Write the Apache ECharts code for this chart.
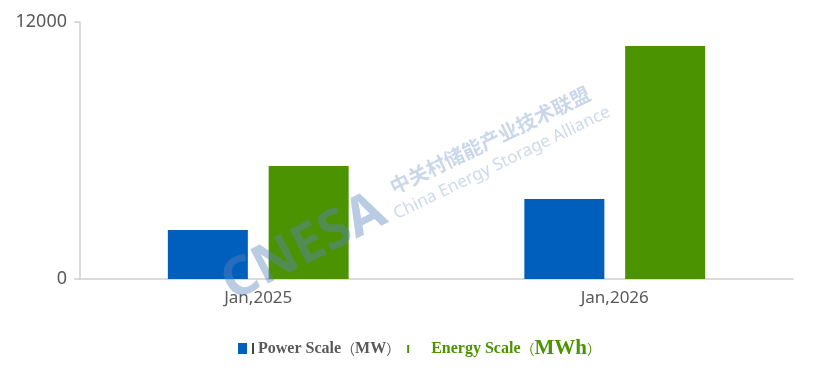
<!DOCTYPE html>
<html>
<head>
<meta charset="utf-8">
<script src="https://cdn.jsdelivr.net/npm/echarts@6/dist/echarts.min.js"></script>
<style>
html,body{margin:0;padding:0;background:#fff;}
#main{width:816px;height:376px;}
</style>
</head>
<body>
<div id="main"></div>
<script>
// 数据
var categories = ['Jan,2025', 'Jan,2026'];
var powerScale = [2290, 3740];
var energyScale = [5280, 10880];
var yTicks = [0, 12000];

var myChart = echarts.init(document.getElementById('main'));
var wm = 'rgba(90,130,190,0.42)';
var serif = 'Liberation Serif';
var cjk = 'Noto Sans CJK SC';
var option = {
	animation: false,
	color: ['#005EBD', '#4B9300'],
	grid: { left: 80, right: 23, top: 22, bottom: 97 },
	legend: {
		bottom: 12,
		left: 233,
		itemGap: 4,
		itemWidth: 9,
		itemHeight: 11,
		selectedMode: false,
		data: [
			{
				name: 'Power Scale（MW）',
				icon: 'rect',
				textStyle: {
					rich: {
						bar: { width: 2, height: 11, backgroundColor: '#444' },
						t: { fontFamily: serif, fontWeight: 'bold', fontSize: 16, color: '#595959', padding: [0, 0, 0, 4] },
						p: { fontFamily: cjk, fontSize: 14, color: '#595959' },
						m: { fontFamily: serif, fontWeight: 'bold', fontSize: 16, color: '#595959' }
					}
				}
			},
			{
				name: 'Energy Scale（MWh）',
				icon: 'path://M0,0h0.01v0.01h-0.01z M3,2h2v8h-2z M8.99,10.99h0.01v0.01h-0.01z',
				textStyle: {
					rich: {
						t: { fontFamily: serif, fontWeight: 'bold', fontSize: 16, color: '#4B9300', padding: [0, 0, 0, 13] },
						p: { fontFamily: cjk, fontSize: 14, color: '#4B9300' },
						u: { fontFamily: serif, fontWeight: 'bold', fontSize: 21, color: '#4B9300' }
					}
				}
			}
		],
		formatter: function (name) {
			if (name.indexOf('MWh') > -1) {
				return '{t|Energy Scale}{p|（}{u|MWh}{p|）}';
			}
			return '{bar| }{t|Power Scale}{p|（}{m|MW}{p|）}';
		}
	},
	xAxis: {
		type: 'category',
		data: categories,
		axisLine: { lineStyle: { color: '#D0D0D0', width: 1.5 } },
		axisTick: { show: false },
		axisLabel: { color: '#595959', fontSize: 17, fontFamily: 'Noto Sans', margin: 11 }
	},
	yAxis: {
		type: 'value',
		min: yTicks[0],
		max: yTicks[1],
		interval: yTicks[1] - yTicks[0],
		axisLine: { show: true, lineStyle: { color: '#D0D0D0', width: 1.5 } },
		axisTick: { show: true, length: 6, lineStyle: { color: '#D0D0D0', width: 1.5 } },
		splitLine: { show: false },
		axisLabel: {
			color: '#595959', fontSize: 18, fontFamily: 'Noto Sans', margin: 13,
			formatter: function (v) { return String(v); }
		}
	},
	series: [
		{ name: 'Power Scale（MW）', type: 'bar', data: powerScale, barWidth: 80, barGap: '26%' },
		{ name: 'Energy Scale（MWh）', type: 'bar', data: energyScale, barWidth: 80, barGap: '26%' }
	],
	graphic: [
		{ type: 'text', x: 304, y: 248, rotation: 0.47, z: 100, silent: true,
			style: { text: 'CNESA', fontSize: 54, fontWeight: 'bold', fontFamily: 'Noto Sans', fill: wm, align: 'center', verticalAlign: 'middle' } },
		{ type: 'text', x: 490, y: 140, rotation: 0.45, z: 100, silent: true,
			style: { text: '中关村储能产业技术联盟', fontSize: 20, fontWeight: 'bold', fontFamily: cjk, fill: 'rgba(90,130,190,0.32)', align: 'center', verticalAlign: 'middle' } },
		{ type: 'text', x: 502, y: 163, rotation: 0.45, z: 100, silent: true,
			style: { text: 'China Energy Storage Alliance', fontSize: 17, fontFamily: 'Noto Sans', fill: 'rgba(90,130,190,0.3)', align: 'center', verticalAlign: 'middle' } }
	]
};
myChart.setOption(option);
</script>
</body>
</html>
